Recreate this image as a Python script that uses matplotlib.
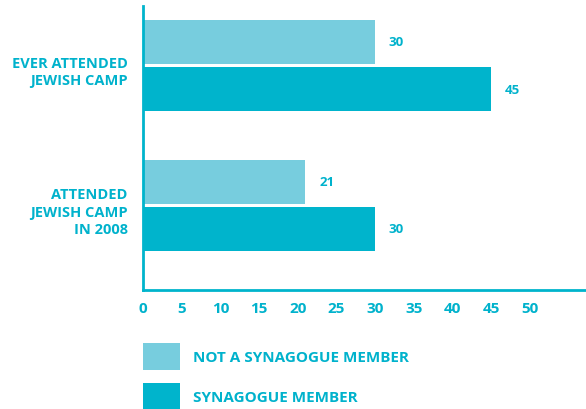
import matplotlib.pyplot as plt
import matplotlib.transforms as mtrans
import numpy as np

# data
groups = ['EVER ATTENDED\nJEWISH CAMP', 'ATTENDED\nJEWISH CAMP\nIN 2008']
not_member = [30, 21]
member = [45, 30]
series_names = ['NOT A SYNAGOGUE MEMBER', 'SYNAGOGUE MEMBER']
xticks = [0, 5, 10, 15, 20, 25, 30, 35, 40, 45, 50]

light = '#77cdde'
dark = '#00b4cc'
txt = '#00b2cc'

plt.rcParams['font.family'] = ['Open Sans', 'DejaVu Sans']
plt.rcParams['font.weight'] = 'bold'

fig = plt.figure(figsize=(5.86, 4.10), dpi=100)
ax = fig.add_axes([143 / 586, 1 - 291 / 410, 1 - 143 / 586, 284 / 410])

y = np.arange(len(groups))
h = 44 / 140
off = 23.5 / 140
b1 = ax.barh(y - off, not_member, height=h, color=light, label=series_names[0])
b2 = ax.barh(y + off, member, height=h, color=dark, label=series_names[1])

# value labels
for bars, vals in ((b1, not_member), (b2, member)):
    for r, v in zip(bars, vals):
        ax.annotate(str(v), (v, r.get_y() + r.get_height() / 2), xytext=(10, 0),
                    textcoords='offset points', ha='left', va='center',
                    fontsize=9.5, fontweight='bold', color=txt)

ax.set_xlim(0, 443 / (232 / 30))
ax.set_ylim(1 + 84.5 / 140, -59.5 / 140)
ax.set_xticks(xticks)
ax.set_xticklabels([str(t) for t in xticks], fontsize=11, fontweight='bold', color=txt)
ax.set_yticks(y)
labs = ax.set_yticklabels(groups, fontsize=10.5, fontweight='bold', color=txt, linespacing=1.3)
ax.tick_params(axis='both', length=0)
ax.tick_params(axis='x', pad=8)
ax.tick_params(axis='y', pad=11)
# nudge the labels down a little, as in the original
for lab in labs:
    lab.set_transform(lab.get_transform() + mtrans.ScaledTranslation(0, -3 / 100, fig.dpi_scale_trans))

for s in ['top', 'right']:
    ax.spines[s].set_visible(False)
for s in ['left', 'bottom']:
    ax.spines[s].set_color(dark)
    ax.spines[s].set_linewidth(2)

fig.legend(handles=[b1, b2], loc='upper left', bbox_to_anchor=(143 / 586, 1 - 344 / 410),
           frameon=False, labelcolor=txt, handlelength=2.45, handleheight=2.3,
           handletextpad=0.8, labelspacing=0.9, borderpad=0, borderaxespad=0,
           prop={'weight': 'bold', 'size': 11})

fig.savefig('out.png', dpi=100)
